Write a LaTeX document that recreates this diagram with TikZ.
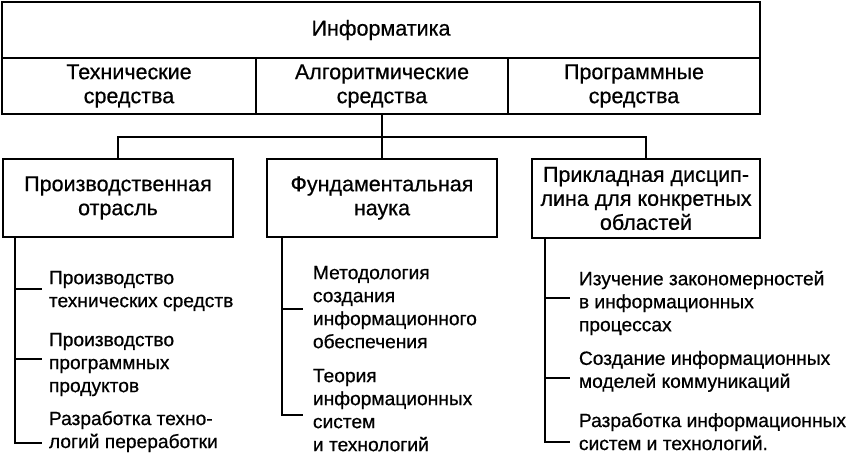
\documentclass[tikz,border=0pt]{standalone}
\usepackage{fontspec}
\setmainfont{Liberation Sans}[FakeBold=0.6]
\usetikzlibrary{calc, positioning}

\begin{document}
\begin{tikzpicture}[x=1pt, y=-1pt, line width=1.9pt,
  cellbox/.style={draw, minimum height=56pt, inner sep=0pt, align=center,
    font=\fontsize{21.5}{24}\selectfont},
  fieldbox/.style={draw, minimum width=230pt, minimum height=78pt, inner sep=0pt,
    align=center, font=\fontsize{21.5}{24}\selectfont},
  leaftext/.style={anchor=north west, inner sep=0pt, align=left,
    font=\fontsize{19.2}{23}\selectfont}]
\useasboundingbox (0,0) rectangle (847,455);

\node[cellbox, minimum width=758pt] (inf) at (381,30) {Информатика};
\node[cellbox, minimum width=254pt] (tech) at (129,86) {Технические\\средства};
\node[cellbox, minimum width=252pt] (alg) at (382,86) {Алгоритмические\\средства};
\node[cellbox, minimum width=252pt] (prog) at (634,86) {Программные\\средства};

\node[fieldbox] (prod) at (118,198) {Производственная\\отрасль};
\node[fieldbox] (fund) at (382,198) {Фундаментальная\\наука};
\node[fieldbox, minimum width=228pt, minimum height=79pt] (appl) at (646,198.5)
  {Прикладная дисцип-\\лина для конкретных\\областей};

\coordinate (bus) at (382,137);
\draw (alg.south) -- (fund.north);
\draw (prod.north) -- (prod.north |- bus) -- (appl.north |- bus) -- (appl.north);

\node[leaftext] (p1) at (48,270) {Производство\\технических средств};
\node[leaftext] (p2) at (48,332) {Производство\\программных\\продуктов};
\node[leaftext] (p3) at (48,410) {Разработка техно-\\логий переработки};

\node[leaftext] (f1) at (312,265) {Методология\\создания\\информационного\\обеспечения};
\node[leaftext] (f2) at (312,368) {Теория\\информационных\\систем\\и технологий};

\node[leaftext] (a1) at (578,270) {Изучение закономерностей\\в информационных\\процессах};
\node[leaftext] (a2) at (578,350) {Создание информационных\\моделей коммуникаций};
\node[leaftext] (a3) at (578,412) {Разработка информационных\\систем и технологий.};

\coordinate (tp) at ($(prod.south west)+(13,0)$);
\coordinate (tf) at ($(fund.south west)+(16,0)$);
\coordinate (ta) at ($(appl.south west)+(14,0)$);

\foreach \leaf/\dy in {p1/19, p2/27, p3/33}
  \draw (tp) |- ($(\leaf.north west)+(-6,\dy)$);
\foreach \leaf/\dy in {f1/44, f2/47}
  \draw (tf) |- ($(\leaf.north west)+(-9,\dy)$);
\foreach \leaf/\dy in {a1/28, a2/28, a3/30}
  \draw (ta) |- ($(\leaf.north west)+(-8,\dy)$);
\end{tikzpicture}
\end{document}
